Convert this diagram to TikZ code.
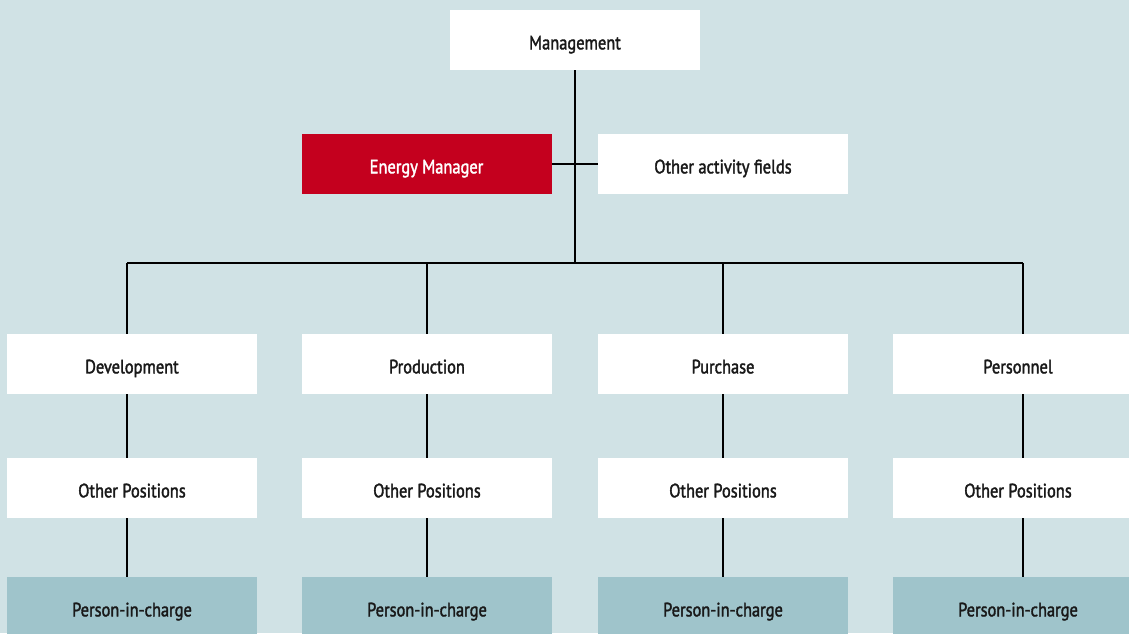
\documentclass[tikz,border=0pt]{standalone}
\usepackage{fontspec}
\setmainfont{PT Sans}[FakeStretch=0.85, FakeBold=1.8]
\begin{document}
\definecolor{bgblue}{HTML}{D0E2E5}
\definecolor{inkred}{HTML}{C4001E}
\definecolor{tealbox}{HTML}{9FC4CB}
\begin{tikzpicture}[x=0.75pt,y=-0.75pt,
  box/.style={rectangle, draw=none, fill=white, minimum width=187.5pt, minimum height=45pt,
    inner sep=0pt, text height=14pt, text depth=0pt,
    font=\fontsize{14.5pt}{16pt}\selectfont, text=black!90},
  redbox/.style={box, fill=inkred, text=white},
  leafbox/.style={box, fill=tealbox},
  link/.style={line width=2.2pt, black}]
  \useasboundingbox (0,0) rectangle (1129,633);
  \clip (0,0) rectangle (1129,633);
  \fill[bgblue] (0,0) rectangle (1129,633);

  % top level
  \node[box] (mgmt) at (575,40) {Management};
  \node[redbox] (energy) at (426.5,164) {Energy Manager};
  \node[box] (other) at (723,164) {Other activity fields};

  % departments
  \node[box] (dev) at (132,364) {Development};
  \node[box] (prod) at (427,364) {Production};
  \node[box] (purch) at (723,364) {Purchase};
  \node[box] (pers) at (1018,364) {Personnel};

  \node[box] (op1) at (132,488) {Other Positions};
  \node[box] (op2) at (427,488) {Other Positions};
  \node[box] (op3) at (723,488) {Other Positions};
  \node[box] (op4) at (1018,488) {Other Positions};

  \node[leafbox] (pc1) at (132,607) {Person-in-charge};
  \node[leafbox] (pc2) at (427,607) {Person-in-charge};
  \node[leafbox] (pc3) at (723,607) {Person-in-charge};
  \node[leafbox] (pc4) at (1018,607) {Person-in-charge};

  % bus coordinates
  \coordinate (hub) at (575,263);
  \coordinate (b1) at (127,263);
  \coordinate (b2) at (427,263);
  \coordinate (b3) at (723,263);
  \coordinate (b4) at (1023,263);

  % connectors
  \draw[link] (mgmt.south) -- (hub);
  \draw[link] (energy.east) -- (other.west);
  \draw[link] (b1) -- (b4);
  \draw[link] (b1) -- (b1 |- dev.north);
  \draw[link] (b2) -- (b2 |- prod.north);
  \draw[link] (b3) -- (b3 |- purch.north);
  \draw[link] (b4) -- (b4 |- pers.north);

  \draw[link] (b1 |- dev.south) -- (b1 |- op1.north);
  \draw[link] (b2 |- prod.south) -- (b2 |- op2.north);
  \draw[link] (b3 |- purch.south) -- (b3 |- op3.north);
  \draw[link] (b4 |- pers.south) -- (b4 |- op4.north);

  \draw[link] (b1 |- op1.south) -- (b1 |- pc1.north);
  \draw[link] (b2 |- op2.south) -- (b2 |- pc2.north);
  \draw[link] (b3 |- op3.south) -- (b3 |- pc3.north);
  \draw[link] (b4 |- op4.south) -- (b4 |- pc4.north);
\end{tikzpicture}
\end{document}
